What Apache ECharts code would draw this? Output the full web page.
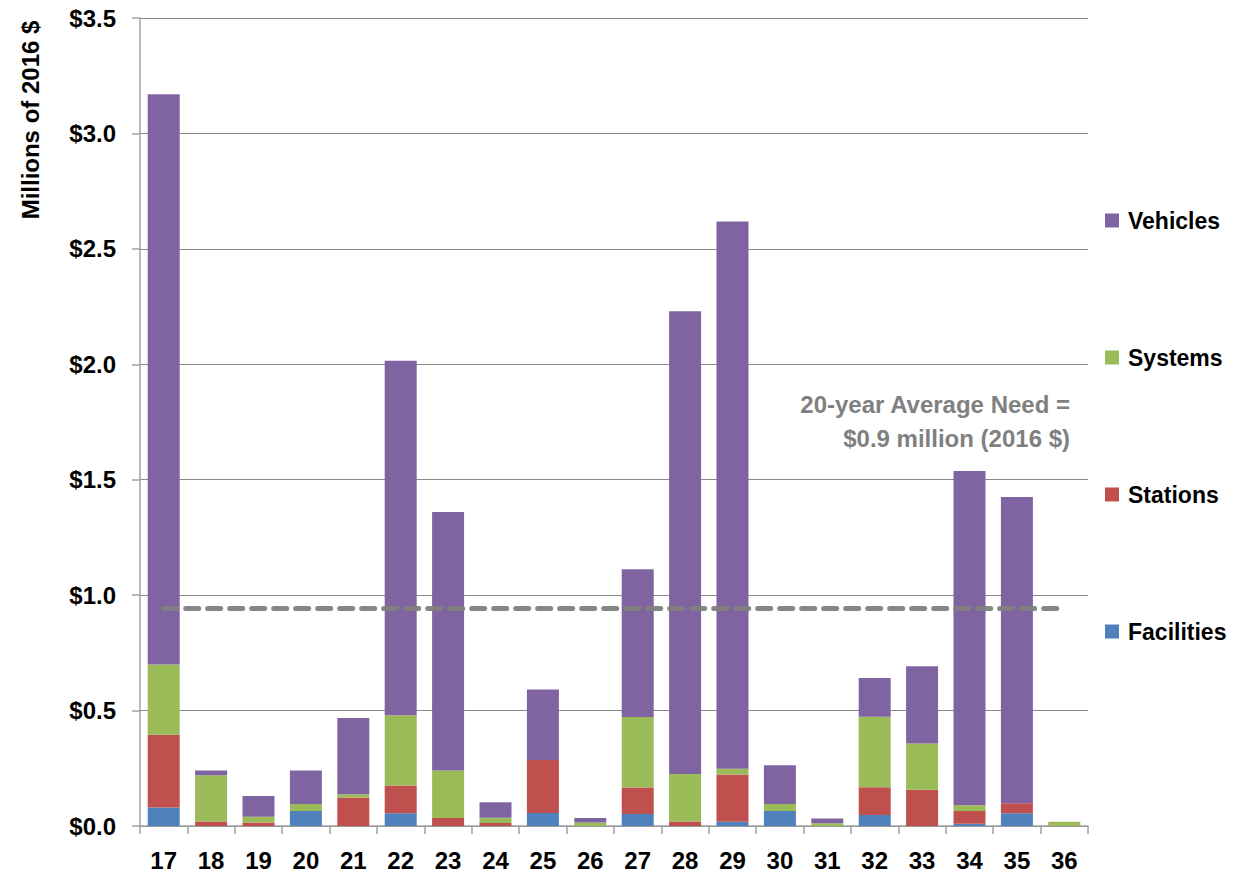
<!DOCTYPE html>
<html>
<head>
<meta charset="utf-8">
<script src="https://cdn.jsdelivr.net/npm/echarts@6/dist/echarts.min.js"></script>
<style>
html,body{margin:0;padding:0;background:#fff;}
#chart{width:1238px;height:876px;}
</style>
</head>
<body>
<div id="chart"></div>
<script>
const categories = ['17','18','19','20','21','22','23','24','25','26','27','28','29','30','31','32','33','34','35','36'];
const facilities = [0.08, 0, 0, 0.065, 0, 0.055, 0, 0, 0.056, 0, 0.052, 0, 0.018, 0.065, 0, 0.048, 0, 0.01, 0.055, 0];
const stations   = [0.315, 0.02, 0.015, 0, 0.123, 0.12, 0.035, 0.013, 0.23, 0, 0.115, 0.02, 0.205, 0, 0, 0.12, 0.157, 0.055, 0.044, 0];
const systems    = [0.305, 0.20, 0.025, 0.03, 0.015, 0.305, 0.205, 0.023, 0, 0.015, 0.305, 0.205, 0.025, 0.03, 0.012, 0.305, 0.2, 0.025, 0, 0.018];
const vehicles   = [2.47, 0.02, 0.09, 0.145, 0.33, 1.535, 1.12, 0.067, 0.305, 0.02, 0.64, 2.005, 2.37, 0.168, 0.02, 0.168, 0.335, 1.448, 1.326, 0];
const avgNeed = 0.945;
const yTicks = {min: 0, max: 3.5, interval: 0.5};
const annotation = ['20-year Average Need =', '$0.9 million (2016 $)'];
const yTitle = 'Millions of 2016 $';

const FONT = "'Liberation Sans', Arial, sans-serif";
const colors = {Facilities:'#4F81BD', Stations:'#C0504D', Systems:'#9BBB59', Vehicles:'#8064A2'};

const chart = echarts.init(document.getElementById('chart'), null, {renderer:'svg'});

function barSeries(name, data){
  return {
    name, type:'bar', stack:'total', data,
    barWidth: 32,
    itemStyle:{color: colors[name]},
    emphasis:{disabled:true}
  };
}

const series = [
  barSeries('Facilities', facilities),
  barSeries('Stations', stations),
  barSeries('Systems', systems),
  barSeries('Vehicles', vehicles)
];
series[3].markLine = {
  silent:true,
  symbol:['none','none'],
  label:{show:false},
  lineStyle:{color:'#808080', width:5, type:[13,9], cap:'round', opacity:0.95},
  data:[[{xAxis:'17', yAxis:avgNeed},{xAxis:'36', yAxis:avgNeed}]]
};

chart.setOption({
  animation:false,
  backgroundColor:'#fff',
  grid:{left:140, right:150, top:18, bottom:50, containLabel:false},
  legend:{
    orient:'vertical',
    left:1105, top:209,
    padding:0,
    itemWidth:14, itemHeight:14,
    itemGap:114,
    icon:'rect',
    data:['Vehicles','Systems','Stations','Facilities'],
    textStyle:{fontFamily:FONT, fontWeight:'bold', fontSize:23, color:'#000', padding:[0,0,0,4]},
    selectedMode:false
  },
  xAxis:{
    type:'category',
    data:categories,
    axisLine:{show:true, lineStyle:{color:'#a0a0a0', width:1.5}},
    axisTick:{show:true, alignWithLabel:false, length:8, lineStyle:{color:'#a0a0a0', width:1.5}},
    axisLabel:{fontFamily:FONT, fontWeight:'bold', fontSize:24, color:'#000', margin:22},
    splitLine:{show:false}
  },
  yAxis:{
    type:'value',
    min:yTicks.min, max:yTicks.max, interval:yTicks.interval,
    axisLine:{show:true, lineStyle:{color:'#a0a0a0', width:1.5}},
    axisTick:{show:true, length:8, lineStyle:{color:'#a0a0a0', width:1.5}},
    axisLabel:{fontFamily:FONT, fontWeight:'bold', fontSize:24, color:'#000', margin:24,
      formatter:v => '$' + v.toFixed(1)},
    splitLine:{show:true, lineStyle:{color:'#8a8a8a', width:1}}
  },
  graphic:[
    {
      type:'text',
      x:30, y:120,
      rotation:Math.PI/2,
      style:{text:yTitle, fontFamily:FONT, fontWeight:'bold', fontSize:24, fill:'#000',
        textAlign:'center', textVerticalAlign:'middle'}
    },
    {
      type:'text',
      x:1070, y:387,
      style:{text:annotation.join('\n'), fontFamily:FONT, fontWeight:'bold', fontSize:24,
        lineHeight:34, fill:'#808080', textAlign:'right'}
    }
  ],
  series
});
</script>
</body>
</html>
